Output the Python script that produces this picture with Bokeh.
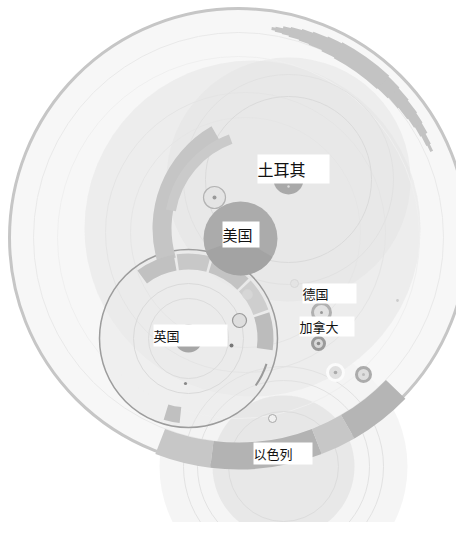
from bokeh.plotting import figure
from bokeh.models import Range1d, ColumnDataSource
from bokeh.core.properties import value
from bokeh.embed import file_html
from bokeh.resources import INLINE
import math

# ---------------- data ----------------
countries = ["土耳其", "美国", "德国", "加拿大", "英国", "以色列"]
label_left = [257, 222, 302, 299, 153, 253]
label_top = [154, 221, 283, 316, 324, 442]
label_w = [72, 37, 54, 55, 74, 59]
label_h = [29, 26, 20, 20, 22, 22]
label_size = ["16px", "15px", "13px", "13px", "13px", "13px"]

# filled discs: x, y, r, colour, alpha
disc_x = [238, 283, 252, 288, 283, 188, 240, 288, 188]
disc_y = [237, 466, 228, 179, 466, 338, 238, 179, 338]
disc_r = [229, 124, 168, 122, 71, 89, 37, 15, 14]
disc_c = ["#f7f7f7", "#f2f2f2", "#ebebeb", "#e3e3e3", "#e3e3e3", "#e9e9e9", "#ababab", "#a9a9a9", "#a6a6a6"]
disc_a = [1.0, 0.8, 0.85, 0.5, 0.75, 0.55, 1.0, 1.0, 1.0]

# faint ring lines: x, y, r
line_x = [238, 238, 245, 245, 288, 288, 283, 283, 283, 188, 188]
line_y = [237, 237, 232, 232, 179, 179, 466, 466, 466, 338, 338]
line_r = [205, 181, 140, 115, 105, 83, 100, 86, 55, 55, 40]
line_c = ["#e9e9e9", "#efefef", "#e4e4e4", "#e5e5e5", "#e1e1e1", "#dadada",
          "#e2e2e2", "#e2e2e2", "#dcdcdc", "#dadada", "#dcdcdc"]

# band segments (annular wedges): x, y, inner, outer, start deg, end deg, colour
band_x = [270, 262,
          188, 188, 188, 188, 188, 188,
          238, 238, 238, 238,
          238, 238, 238, 238, 238, 238, 238, 238]
band_y = [228, 226,
          338, 338, 338, 338, 338, 338,
          237, 237, 237, 237,
          237, 237, 237, 237, 237, 237, 237, 237]
band_in = [99, 88,
           69, 69, 69, 69, 69, 69,
           205, 205, 205, 205,
           210, 209, 208, 207, 206, 205, 204, 203]
band_out = [118, 98,
            85, 85, 85, 85, 85, 85,
            232, 232, 232, 232,
            213, 214, 216, 217, 218, 219, 220, 221]
band_a0 = [120, 110,
           100, 75, 45, 20, -8, 253,
           249, 263, 291, 300,
           24, 26, 29, 32, 35, 39, 43, 47]
band_a1 = [197, 170,
           127, 98, 73, 43, 18, 264,
           263, 291, 300, 316,
           81, 80, 78, 76, 73, 70, 66, 62]
band_c = ["#c5c5c5", "#cacaca",
          "#c1c1c1", "#c8c8c8", "#c3c3c3", "#cecece", "#bcbcbc", "#c0c0c0",
          "#c7c7c7", "#b3b3b3", "#c7c7c7", "#b5b5b5",
          "#c3c3c3", "#c3c3c3", "#c3c3c3", "#c3c3c3", "#c3c3c3", "#c3c3c3", "#c3c3c3", "#c3c3c3"]

# USA inner shade wedge
usa_shade = dict(x=[240], y=[238], r=[37], a0=[200], a1=[330])

# small marker rings: x, y, r, fill, line colour, line width
mk_x = [214, 239, 247, 272, 321, 318, 335, 363, 294]
mk_y = [197, 320, 294, 418, 312, 343, 372, 374, 283]
mk_r = [11, 7, 5, 4, 9, 6, 8, 7, 4]
mk_f = ["#e4e4e4", "#dedede", "#d6d6d6", "#f0f0f0", "#e2e2e2", "#d8d8d8", "#e0e0e0", "#dedede", "#e4e4e4"]
mk_l = ["#b3b3b3", "#9a9a9a", "#d6d6d6", "#a8a8a8", "#b0b0b0", "#9a9a9a", "#fbfbfb", "#ababab", "#d8d8d8"]
mk_w = [1.2, 1.2, 0.5, 1.0, 3.0, 3.0, 3.0, 3.0, 1.0]

# dots: x, y, r, colour
dot_x = [214, 321, 318, 335, 363, 231, 185, 397, 288]
dot_y = [197, 312, 343, 372, 374, 345, 383, 300, 186]
dot_r = [2.0, 1.5, 1.8, 1.8, 1.5, 2.0, 1.6, 1.4, 1.2]
dot_c = ["#999999", "#999999", "#888888", "#aaaaaa", "#bbbbbb", "#777777", "#888888", "#cccccc", "#dddddd"]

# ---------------- figure ----------------
p = figure(width=456, height=522, x_range=Range1d(0, 456), y_range=Range1d(522, 0),
           output_backend="svg", toolbar_location=None, min_border=0)
p.axis.visible = False
p.grid.visible = False
p.outline_line_color = None
p.background_fill_color = "white"
p.border_fill_color = "white"

rad = math.pi / 180.0

p.circle(x=disc_x[:6], y=disc_y[:6], radius=disc_r[:6], fill_color=disc_c[:6],
         fill_alpha=disc_a[:6], line_color=None)
p.circle(x=line_x, y=line_y, radius=line_r, fill_color=None, line_color=line_c, line_width=1)
# outer outline & UK outline
p.circle(x=[disc_x[0]], y=[disc_y[0]], radius=[disc_r[0]], fill_color=None,
         line_color="#c6c6c6", line_width=3)
p.circle(x=[disc_x[5]], y=[disc_y[5]], radius=[disc_r[5]], fill_color=None,
         line_color="#9c9c9c", line_width=1.5)

bsrc = ColumnDataSource(dict(x=band_x, y=band_y, ri=band_in, ro=band_out,
                             a0=[a * rad for a in band_a0], a1=[a * rad for a in band_a1], c=band_c))
p.annular_wedge(x="x", y="y", inner_radius="ri", outer_radius="ro", start_angle="a0",
                end_angle="a1", fill_color="c", line_color=None, source=bsrc)

# thin arc line near UK ring
p.arc(x=[188], y=[338], radius=[82], start_angle=[-35 * rad], end_angle=[-18 * rad],
      line_color="#999999", line_width=2)

# USA & dark centres
p.circle(x=disc_x[6:], y=disc_y[6:], radius=disc_r[6:], fill_color=disc_c[6:],
         fill_alpha=disc_a[6:], line_color=None)
p.wedge(x=usa_shade["x"], y=usa_shade["y"], radius=usa_shade["r"],
        start_angle=[a * rad for a in usa_shade["a0"]], end_angle=[a * rad for a in usa_shade["a1"]],
        fill_color="#999999", fill_alpha=0.45, line_color=None)

p.circle(x=mk_x, y=mk_y, radius=mk_r, fill_color=mk_f, line_color=mk_l, line_width=mk_w)
p.circle(x=dot_x, y=dot_y, radius=dot_r, fill_color=dot_c, line_color=None)

# labels
lsrc = ColumnDataSource(dict(
    l=label_left, r=[a + b for a, b in zip(label_left, label_w)],
    t=label_top, b=[a + b for a, b in zip(label_top, label_h)],
    cy=[a + b / 2 for a, b in zip(label_top, label_h)],
    name=countries, fs=label_size))
p.quad(left="l", right="r", top="t", bottom="b", fill_color="white", line_color=None, source=lsrc)
p.text(x="l", y="cy", text="name", text_font_size="fs", text_align="left",
       text_baseline="middle", text_color="#111111", text_font=value("Noto Sans CJK SC"),
       source=lsrc)

open("out.html", "w").write(file_html(p, INLINE))
